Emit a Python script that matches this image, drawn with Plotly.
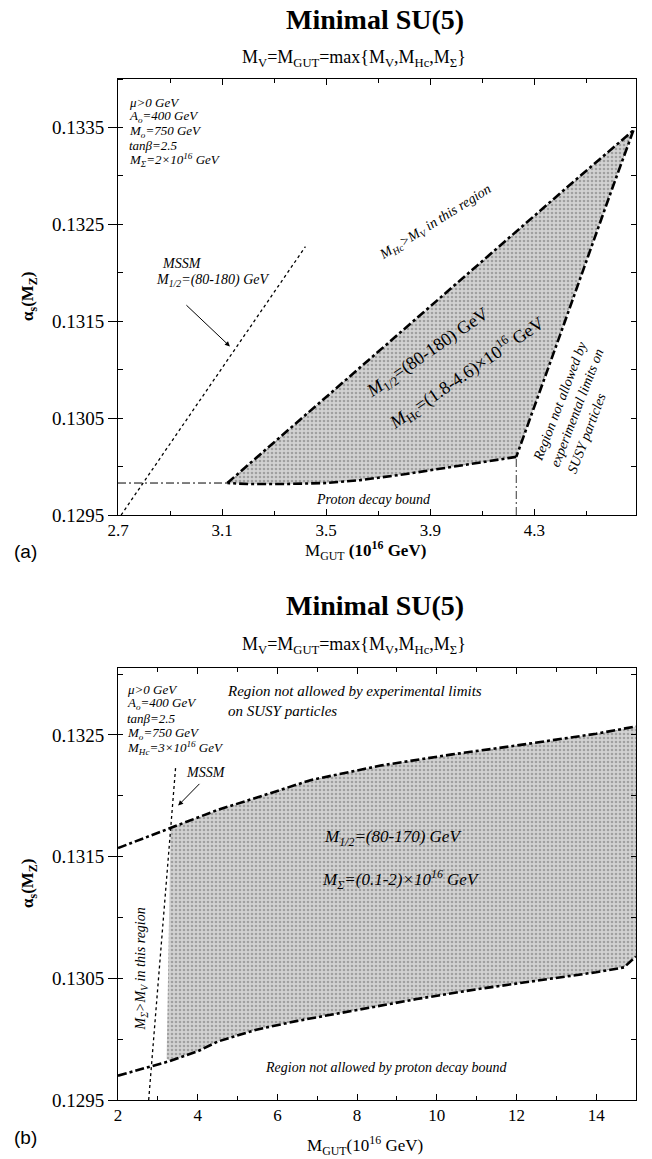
import plotly.graph_objects as go

W, H = 652, 1159

# ---------------- panel (a) data ----------------
a_xticks = [2.7, 3.1, 3.5, 3.9, 4.3]
a_yticks = [0.1295, 0.1305, 0.1315, 0.1325, 0.1335]
a_xrange = [2.7, 4.69]
a_yrange = [0.1295, 0.1340]

a_upper_x = [3.12, 3.27, 3.60, 4.00, 4.45, 4.68]
a_upper_y = [0.12983, 0.13018, 0.13096, 0.13189, 0.13294, 0.13347]
a_right_x = [4.68, 4.60, 4.40, 4.23]
a_right_y = [0.13347, 0.13288, 0.13137, 0.13010]
a_lower_x = [4.23, 4.00, 3.80, 3.63, 3.50, 3.34, 3.20, 3.12]
a_lower_y = [0.13010, 0.13000, 0.12992, 0.12986, 0.12983, 0.12982, 0.12982, 0.12983]
a_proton_x = [2.7, 3.12]
a_proton_y = [0.12983, 0.12983]
a_susy_x = [4.23, 4.23]
a_susy_y = [0.1295, 0.13010]
a_mssm_x = [2.712, 3.42]
a_mssm_y = [0.1295, 0.13227]

# ---------------- panel (b) data ----------------
b_xticks = [2, 4, 6, 8, 10, 12, 14]
b_yticks = [0.1295, 0.1305, 0.1315, 0.1325]
b_xrange = [2, 15]
b_yrange = [0.1295, 0.13305]

b_upper_x = [2.0, 3.3, 3.85, 4.47, 5.43, 6.85, 8.62, 10.39, 12.15, 14.0, 15.0]
b_upper_y = [0.13157, 0.13173, 0.13180, 0.13188, 0.13198, 0.13213, 0.13225, 0.13234, 0.13242, 0.13251, 0.13257]
b_lower_x = [2.0, 2.85, 3.3, 4.0, 4.5, 5.5, 6.5, 8.0, 9.5, 11.0, 12.5, 14.0, 14.7, 15.0]
b_lower_y = [0.12970, 0.12978, 0.12982, 0.12990, 0.12998, 0.13008, 0.13015, 0.13024, 0.13033, 0.13041, 0.13048, 0.13055, 0.13059, 0.13068]
b_fill_left_x = [3.22, 3.32]
b_fill_left_y = [0.12984, 0.13174]
b_mssm_x = [2.77, 3.45]
b_mssm_y = [0.1295, 0.13225]

SERIF = "Liberation Serif"
DASHDOT = "9px,3px,3px,3px"
pattern = dict(shape=".", bgcolor="#d2d2d2", fgcolor="#6e6e6e", size=4, solidity=0.35)


def P(xp, yp):
    return xp / W, 1 - yp / H


fig = go.Figure()

# ---- panel (a) traces ----
ax_poly = a_upper_x + a_right_x[1:] + a_lower_x[1:]
ay_poly = a_upper_y + a_right_y[1:] + a_lower_y[1:]
fig.add_trace(go.Scatter(x=ax_poly, y=ay_poly, fill="toself", mode="lines",
                         line=dict(width=0), fillcolor="#cccccc", fillpattern=pattern,
                         xaxis="x", yaxis="y", hoverinfo="skip"))
for xs, ys in [(a_upper_x, a_upper_y), (a_right_x, a_right_y), (a_lower_x, a_lower_y)]:
    fig.add_trace(go.Scatter(x=xs, y=ys, mode="lines",
                             line=dict(color="black", width=2.6, dash=DASHDOT), xaxis="x", yaxis="y"))
fig.add_trace(go.Scatter(x=a_proton_x, y=a_proton_y, mode="lines",
                         line=dict(color="black", width=1, dash="8px,3px,2px,3px"), xaxis="x", yaxis="y"))
fig.add_trace(go.Scatter(x=a_susy_x, y=a_susy_y, mode="lines",
                         line=dict(color="black", width=0.8, dash="8px,3px,2px,3px"), xaxis="x", yaxis="y"))
fig.add_trace(go.Scatter(x=a_mssm_x, y=a_mssm_y, mode="lines",
                         line=dict(color="black", width=1.3, dash="dot"), xaxis="x", yaxis="y"))
# invisible anchor for the right-hand tick axis
fig.add_trace(go.Scatter(x=a_xrange[:1], y=a_yrange[:1], mode="markers", marker=dict(opacity=0),
                         xaxis="x", yaxis="y3", hoverinfo="skip"))

# ---- panel (b) traces ----
bx_poly = b_fill_left_x + [x for x in b_upper_x if x > b_fill_left_x[1]] + \
    [x for x in b_lower_x[::-1] if x > b_fill_left_x[0]]
by_poly = b_fill_left_y + [y for x, y in zip(b_upper_x, b_upper_y) if x > b_fill_left_x[1]] + \
    [y for x, y in zip(b_lower_x[::-1], b_lower_y[::-1]) if x > b_fill_left_x[0]]
fig.add_trace(go.Scatter(x=bx_poly, y=by_poly, fill="toself", mode="lines",
                         line=dict(width=0), fillcolor="#cccccc", fillpattern=pattern,
                         xaxis="x2", yaxis="y2", hoverinfo="skip"))
for xs, ys in [(b_upper_x, b_upper_y), (b_lower_x, b_lower_y)]:
    fig.add_trace(go.Scatter(x=xs, y=ys, mode="lines",
                             line=dict(color="black", width=2.6, dash=DASHDOT), xaxis="x2", yaxis="y2"))
fig.add_trace(go.Scatter(x=b_mssm_x, y=b_mssm_y, mode="lines",
                         line=dict(color="black", width=1.3, dash="dot"), xaxis="x2", yaxis="y2"))
fig.add_trace(go.Scatter(x=b_xrange[:1], y=b_yrange[:1], mode="markers", marker=dict(opacity=0),
                         xaxis="x2", yaxis="y4", hoverinfo="skip"))

# ---- axes ----
xcommon = dict(showline=True, linecolor="black", linewidth=1, mirror="ticks", ticks="inside",
               ticklen=6, tickcolor="black", showgrid=False, zeroline=False, automargin=False,
               tickfont=dict(family=SERIF, size=17, color="black"))
ycommon = dict(showline=True, linecolor="black", linewidth=1, mirror=True, ticks="outside",
               ticklen=9, tickcolor="black", showgrid=False, zeroline=False, automargin=False,
               tickformat=".4f",
               minor=dict(dtick=0.0005, tick0=0.1295, ticklen=5, tickcolor="black", ticks="inside"))
yfont = dict(family=SERIF, size=19, color="black")
yright = dict(side="right", ticks="inside", ticklen=5, tickcolor="black",
              dtick=0.0005, tick0=0.1295, showticklabels=False, showline=False,
              showgrid=False, zeroline=False, automargin=False)

xd = [118 / W, 636 / W]
yd_a = [1 - 515 / H, 1 - 79 / H]
yd_b = [1 - 1100 / H, 1 - 668 / H]
fig.update_layout(
    xaxis=dict(xcommon, domain=xd, range=a_xrange, tickvals=a_xticks, ticktext=[str(v) for v in a_xticks],
               anchor="y", minor=dict(dtick=0.2, tick0=2.7, ticklen=4, tickcolor="black", ticks="inside")),
    yaxis=dict(ycommon, domain=yd_a, range=a_yrange, tickvals=a_yticks, anchor="x", tickfont=yfont),
    yaxis3=dict(yright, overlaying="y", anchor="x", range=a_yrange),
    xaxis2=dict(xcommon, domain=xd, range=b_xrange, tickvals=b_xticks, anchor="y2",
                minor=dict(dtick=1, tick0=2, ticklen=4, tickcolor="black", ticks="inside")),
    yaxis2=dict(ycommon, domain=yd_b, range=b_yrange, tickvals=b_yticks, anchor="x2", tickfont=yfont),
    yaxis4=dict(yright, overlaying="y2", anchor="x2", range=b_yrange),
)

ann = []


def T(text, xp, yp, size=15, italic=False, bold=False, angle=0, align="center",
      xanchor="center", yanchor="middle", family=SERIF):
    if italic:
        text = "<i>" + text + "</i>"
    if bold:
        text = "<b>" + text + "</b>"
    x, y = P(xp, yp)
    ann.append(dict(text=text, x=x, y=y, xref="paper", yref="paper", showarrow=False,
                    font=dict(family=family, size=size, color="black"), textangle=angle,
                    align=align, xanchor=xanchor, yanchor=yanchor))


def TD(text, x, y, xr, yr, size=15, italic=False, angle=0, align="center", xanchor="center"):
    if italic:
        text = "<i>" + text + "</i>"
    ann.append(dict(text=text, x=x, y=y, xref=xr, yref=yr, showarrow=False,
                    font=dict(family=SERIF, size=size, color="black"), textangle=angle,
                    align=align, xanchor=xanchor, yanchor="middle"))


SUB = "M<sub>V</sub>=M<sub>GUT</sub>=max{M<sub>V</sub>,M<sub>Hc</sub>,M<sub>Σ</sub>}"

# ---- panel (a) text ----
T("Minimal SU(5)", 375, 20, size=28, bold=True)
T(SUB, 354, 58, size=18)
T("α<sub>s</sub>(M<sub>Z</sub>)", 29, 297, size=17, bold=True, angle=-90)
T("M<sub>GUT</sub> <b>(10<sup>16</sup> GeV)</b>", 365, 550, size=17)
T("(a)", 12, 551, size=19, xanchor="left", family="Liberation Sans")

info_a = ["μ&gt;0 GeV", "A<sub>o</sub>=400 GeV", "M<sub>o</sub>=750 GeV", "tanβ=2.5",
          "M<sub>Σ</sub>=2×10<sup>16</sup> GeV"]
for i, s in enumerate(info_a):
    T(s, 127, 102 + i * 14.6, size=13, italic=True, xanchor="left")

TD("MSSM", 2.86, 0.13210, "x", "y", size=14, italic=True, xanchor="left")
TD("M<sub>1/2</sub>=(80-180) GeV", 2.84, 0.13192, "x", "y", size=14, italic=True, xanchor="left")
TD("M<sub>Hc</sub>&gt;M<sub>V</sub> in this region", 3.92, 0.13252, "x", "y", size=14, italic=True, angle=-32)
TD("<i>M</i><sub>1/2</sub>=(80-180) GeV", 3.89, 0.13117, "x", "y", size=18, angle=-34.5)
TD("<i>M</i><sub>Hc</sub>=(1.8-4.6)×10<sup>16</sup> GeV", 4.04, 0.13097, "x", "y", size=18, angle=-34.5)
TD("Region not allowed by<br>experimental limits on<br>SUSY particles", 4.463, 0.13061, "x", "y",
   size=14, italic=True, angle=-69, align="left")
TD("Proton decay bound", 3.68, 0.12966, "x", "y", size=14, italic=True)

ann.append(dict(x=3.13, y=0.13124, ax=2.957, ay=0.13168, xref="x", yref="y", axref="x", ayref="y",
                showarrow=True, arrowhead=2, arrowsize=1, arrowwidth=1, arrowcolor="black", text=""))

# ---- panel (b) text ----
T("Minimal SU(5)", 375, 605, size=28, bold=True)
T(SUB, 354, 645, size=18)
T("α<sub>s</sub>(M<sub>Z</sub>)", 29, 884, size=17, bold=True, angle=-90)
T("M<sub>GUT</sub>(10<sup>16</sup> GeV)", 365, 1145, size=17)
T("(b)", 12, 1137, size=19, xanchor="left", family="Liberation Sans")

info_b = ["μ&gt;0 GeV", "A<sub>o</sub>=400 GeV", "tanβ=2.5", "M<sub>o</sub>=750 GeV",
          "M<sub>Hc</sub>=3×10<sup>16</sup> GeV"]
for i, s in enumerate(info_b):
    T(s, 125, 689 + i * 14.8, size=13, italic=True, xanchor="left")

T("Region not allowed by experimental limits<br>on SUSY particles", 225, 701, size=15,
  italic=True, xanchor="left", align="left")
TD("MSSM", 4.2, 0.13219, "x2", "y2", size=14, italic=True)
ann.append(dict(x=3.51, y=0.13192, ax=4.08, ay=0.13211, xref="x2", yref="y2", axref="x2", ayref="y2",
                showarrow=True, arrowhead=2, arrowsize=1, arrowwidth=1, arrowcolor="black", text=""))
TD("M<sub>1/2</sub>=(80-170) GeV", 7.11, 0.13165, "x2", "y2", size=17, italic=True, xanchor="left")
TD("M<sub>Σ</sub>=(0.1-2)×10<sup>16</sup> GeV", 7.06, 0.13131, "x2", "y2", size=17, italic=True, xanchor="left")
TD("M<sub>Σ</sub>&gt;M<sub>V</sub> in this region", 2.6, 0.13058, "x2", "y2", size=14, italic=True, angle=-90)
TD("Region not allowed by proton decay bound", 8.74, 0.12977, "x2", "y2", size=14, italic=True)

fig.update_layout(
    width=W, height=H, autosize=False,
    margin=dict(l=0, r=0, t=0, b=0),
    paper_bgcolor="white", plot_bgcolor="white",
    showlegend=False, annotations=ann,
)

fig.write_html("out.html")
